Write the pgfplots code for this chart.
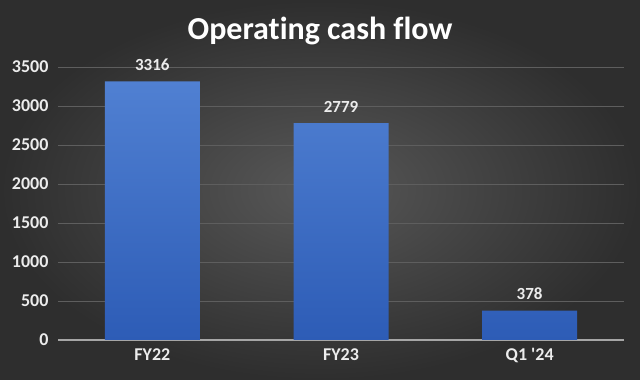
\documentclass[border=0pt]{standalone}
\usepackage{pgfplots}
\pgfplotsset{compat=1.18}
\usepackage{fontspec}
\setmainfont{Carlito}[Ligatures={NoCommon}]
\definecolor{bgin}{HTML}{585858}
\definecolor{bgout}{HTML}{2E2E2E}
\definecolor{gridc}{HTML}{5E5E5E}
\definecolor{axisc}{HTML}{A6A6A6}
\definecolor{bartop}{HTML}{5080D2}
\definecolor{barbot}{HTML}{2D5CB6}
\definecolor{txt}{HTML}{ECECEC}
\begin{document}
\begin{tikzpicture}[x=1pt,y=1pt]
\shade[inner color=bgin, outer color=bgout] (0,0) rectangle (640,380);
\useasboundingbox (0,0) rectangle (640,380);
\node[text=black!80, opacity=0.6, font=\bfseries\fontsize{32}{36}\selectfont] at (321.5,347.5) {Operating cash flow};
\node[text=white, font=\bfseries\fontsize{32}{36}\selectfont] at (320,349) {Operating cash flow};
\begin{axis}[
  at={(58pt,40pt)}, anchor=south west,
  scale only axis, width=566pt, height=273pt,
  xmin=-0.5, xmax=2.5, ymin=0, ymax=3500,
  ytick={0,500,...,3500},
  xtick={0,1,2}, xticklabels={FY22,FY23,{Q1 \textquotesingle24}},
  axis line style={draw=none},
  major tick style={draw=none},
  ymajorgrids, grid style={color=gridc, line width=0.9pt},
  extra y ticks={0}, extra y tick labels={},
  extra y tick style={grid style={color=axisc, line width=1.3pt}},
  /pgf/number format/assume math mode=true,
  /pgf/number format/1000 sep={},
  ticklabel style={text=txt, font=\bfseries\fontsize{18}{21}\selectfont},
  yticklabel style={xshift=-6pt},
  xticklabel style={yshift=-5pt},
  clip=false,
]
\addplot[ybar, bar width=95pt, draw=none, top color=bartop, bottom color=barbot,
  nodes near coords,
  every node near coord/.append style={text=txt, font=\bfseries\fontsize{17}{20}\selectfont, yshift=7pt}]
  coordinates {(0,3316) (1,2779) (2,378)};
\end{axis}
\end{tikzpicture}
\end{document}
